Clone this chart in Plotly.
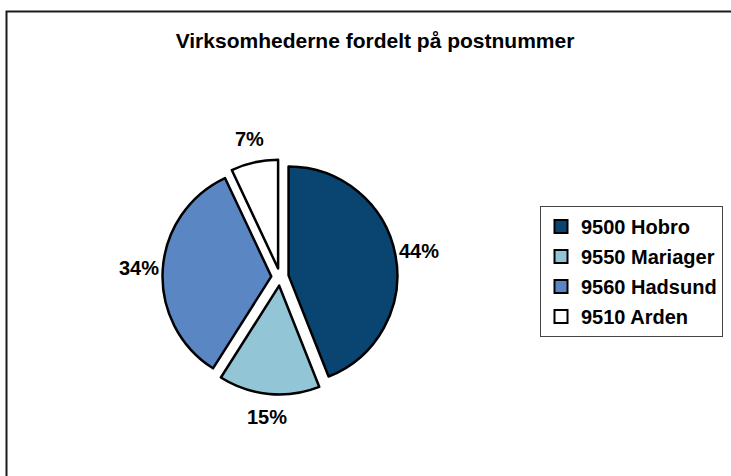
import math
import plotly.graph_objects as go

labels = ["9500 Hobro", "9550 Mariager", "9560 Hadsund", "9510 Arden"]
values = [44, 15, 34, 7]
colors = ["#0A4470", "#92C5D5", "#5B86C4", "#FFFFFF"]

W, H = 731, 476
font_fam = "Liberation Sans, Arial, sans-serif"

# pie geometry (pixels)
cx, cy, size = 280, 277, 235
label_r = 141  # distance of the percentage labels from the pie centre

fig = go.Figure()
fig.add_trace(go.Pie(
    labels=labels,
    values=values,
    sort=False,
    direction="clockwise",
    rotation=0,
    pull=[0.08] * 4,
    marker=dict(colors=colors, line=dict(color="#000000", width=2.5)),
    textinfo="none",
    domain=dict(x=[(cx - size / 2) / W, (cx + size / 2) / W],
                y=[(H - cy - size / 2) / H, (H - cy + size / 2) / H]),
    hoverinfo="label+percent",
    showlegend=False,
))

# percentage labels placed at each slice's mid-angle
total = sum(values)
annotations = []
cum = 0
for v in values:
    mid = (cum + v / 2) / total * 2 * math.pi
    cum += v
    px = cx + label_r * math.sin(mid)
    py = cy - label_r * math.cos(mid)
    annotations.append(dict(
        x=px / W, y=1 - py / H, xref="paper", yref="paper",
        text=f"<b>{round(v / total * 100)}%</b>", showarrow=False,
        xanchor="center", yanchor="middle",
        font=dict(family=font_fam, size=20, color="#000000"),
    ))

# legend entries (one per category, same colours as the slices)
for i, (lab, col) in enumerate(zip(labels, colors)):
    fig.add_trace(go.Scatter(
        x=[None], y=[None], mode="markers", name=lab,
        legendgroup=f"g{i}",
        marker=dict(symbol="square", size=13, color=col,
                    line=dict(color="#000000", width=2)),
        showlegend=True,
    ))

fig.update_layout(
    width=W, height=H,
    margin=dict(l=0, r=0, t=0, b=0),
    paper_bgcolor="white",
    plot_bgcolor="white",
    xaxis=dict(visible=False),
    yaxis=dict(visible=False),
    font=dict(family=font_fam, size=16, color="#000000"),
    title=dict(
        text="<b>Virksomhederne fordelt på postnummer</b>",
        x=375 / W, xanchor="center",
        y=1 - 41 / H, yanchor="middle", yref="container",
        font=dict(family=font_fam, size=21, color="#000000"),
    ),
    legend=dict(
        x=540 / W, xanchor="left",
        y=1 - 206 / H, yanchor="top",
        bordercolor="#444444", borderwidth=1,
        bgcolor="white",
        font=dict(family=font_fam, size=20, color="#000000", weight="bold"),
        traceorder="grouped",
        tracegroupgap=1,
    ),
    showlegend=True,
    annotations=annotations,
    shapes=[dict(
        type="rect", xref="paper", yref="paper",
        x0=6.5 / W, x1=1.02, y0=-0.02, y1=1 - 11.5 / H,
        line=dict(color="#1a1a1a", width=2),
    )],
)

fig.write_html("out.html", config={"displayModeBar": False},
               post_script="document.body.style.margin='0';")
